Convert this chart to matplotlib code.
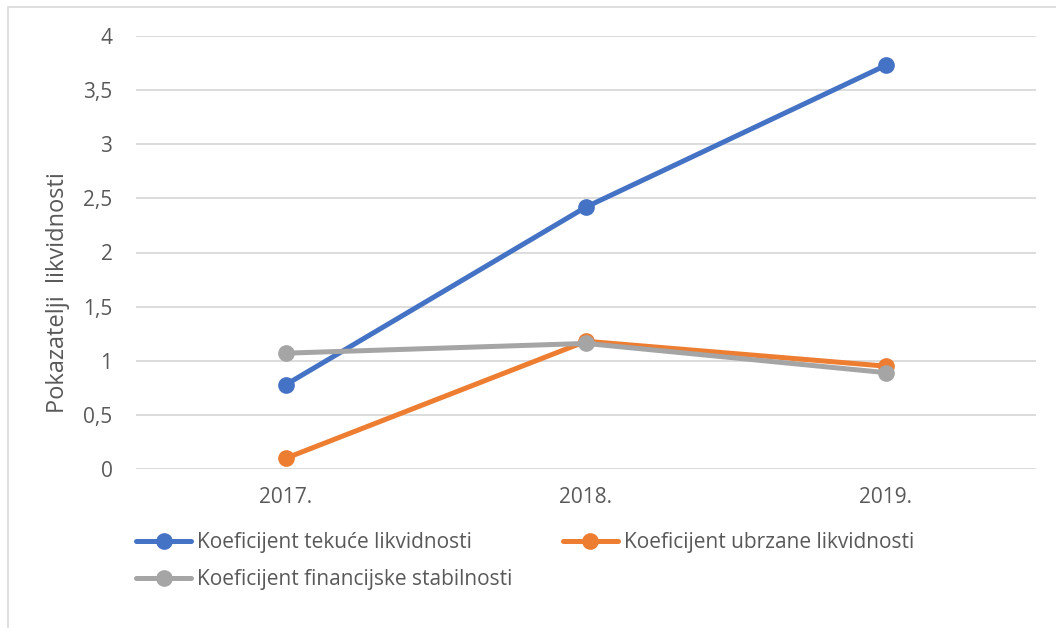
import matplotlib.pyplot as plt
from matplotlib.patches import Rectangle

plt.rcParams['font.family'] = ['Open Sans', 'DejaVu Sans']

years = ['2017.', '2018.', '2019.']
tekuce = [0.78, 2.42, 3.73]
ubrzane = [0.10, 1.18, 0.95]
financijske = [1.07, 1.16, 0.89]

labels = ['Koeficijent tekuće likvidnosti',
          'Koeficijent ubrzane likvidnosti',
          'Koeficijent financijske stabilnosti']
colors = ['#4472C4', '#ED7D31', '#A5A5A5']
text_col = '#595959'

fig = plt.figure(figsize=(10.56, 6.28), dpi=100)
ax = fig.add_axes([136/1056, 1 - 469/628, 900/1056, 433/628])

# chart border (cut off on right/bottom like the original)
fig.patches.append(Rectangle((8/1056, -0.1), 1.2, 1 - 7/628 + 0.1,
                             transform=fig.transFigure, fill=False,
                             edgecolor='#D9D9D9', linewidth=1.2))

x = range(len(years))
lines = []
for vals, c, lab in zip([tekuce, ubrzane, financijske], colors, labels):
    l, = ax.plot(x, vals, color=c, lw=3.6, marker='o', markersize=11,
                 label=lab, solid_capstyle='round', zorder=3)
    lines.append(l)

ax.set_xlim(-0.5, 2.5)
ax.set_ylim(0, 4)
ax.set_yticks([0, 0.5, 1, 1.5, 2, 2.5, 3, 3.5, 4])
ax.set_yticklabels(['0', '0,5', '1', '1,5', '2', '2,5', '3', '3,5', '4'])
ax.set_xticks(list(x))
ax.set_xticklabels(years)
ax.tick_params(length=0, labelsize=15, labelcolor=text_col)
ax.tick_params(axis='y', pad=17)
ax.tick_params(axis='x', pad=13)
ax.grid(axis='y', color='#D9D9D9', lw=1.3)
ax.set_axisbelow(True)
for s in ax.spines.values():
    s.set_visible(False)

ax.set_ylabel('Pokazatelji  likvidnosti', fontsize=17, color=text_col)
ax.yaxis.set_label_coords((70 - 136) / 900, (469 - 293) / 433)

leg = fig.legend([lines[0], lines[2], lines[1]], [labels[0], labels[2], labels[1]],
                 ncol=2, loc='upper left', bbox_to_anchor=(136/1056, 1 - 532/628),
                 frameon=False, fontsize=15, handlelength=2.65, handletextpad=0.3,
                 columnspacing=2.4, labelspacing=0.78, borderpad=0, borderaxespad=0,
                 labelcolor=text_col)

fig.savefig('out.png', dpi=100, facecolor='white')
